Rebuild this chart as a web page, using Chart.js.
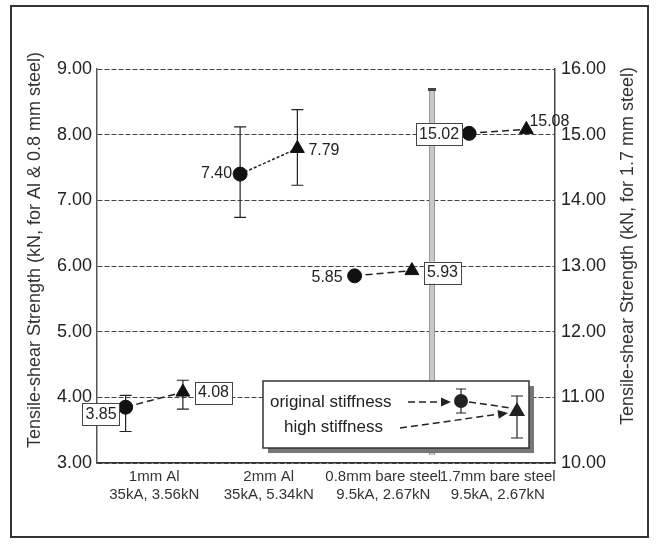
<!DOCTYPE html>
<html>
<head>
<meta charset="utf-8">
<script src="https://cdn.jsdelivr.net/npm/chart.js@4.4.1/dist/chart.umd.min.js"></script>
<style>
  html, body { margin: 0; padding: 0; background: #fff; }
  #wrap { width: 656px; height: 544px; }
</style>
</head>
<body>
<div id="wrap"><canvas id="strengthChart" width="656" height="544"></canvas></div>
<script>
// Tensile-shear strength, original vs high stiffness

const categories = [
    ['1mm Al', '35kA, 3.56kN'],
    ['2mm Al', '35kA, 5.34kN'],
    ['0.8mm bare steel', '9.5kA, 2.67kN'],
    ['1.7mm bare steel', '9.5kA, 2.67kN']
];
// last group is read on the right axis (1.7 mm steel)
const axisOfGroup = ['y', 'y', 'y', 'y2'];

const originalStiffness = [3.85, 7.40, 5.85, 15.02];
const highStiffness = [4.08, 7.79, 5.93, 15.08];

// error bar ends
const originalLow = [3.48, 6.74, 5.85, 15.02];
const originalHigh = [4.03, 8.12, 5.85, 15.02];
const highLow = [3.82, 7.23, 5.93, 15.08];
const highHigh = [4.26, 8.38, 5.93, 15.08];

const leftTicks = [3, 4, 5, 6, 7, 8, 9];
const rightTicks = [10, 11, 12, 13, 14, 15, 16];

const leftTitle = 'Tensile-shear Strength (kN, for Al & 0.8 mm steel)';
const rightTitle = 'Tensile-shear Strength (kN, for 1.7 mm steel)';

const OFFSET = 0.25;
const FONT = '"Liberation Sans", Arial, sans-serif';

function pointsFor(values, shift, axis) {
    return values
        .map((v, i) => ({ x: i + shift, y: v, axis: axisOfGroup[i] }))
        .filter(p => p.axis === axis);
}

function markerSet(label, values, shift, axis, style) {
    return {
        type: 'scatter',
        label: label,
        data: pointsFor(values, shift, axis),
        yAxisID: axis,
        pointStyle: style,
        pointRadius: style === 'circle' ? 7 : 8,
        backgroundColor: '#111',
        borderColor: '#111',
        order: 1
    };
}

const datasets = [
    markerSet('original stiffness', originalStiffness, -OFFSET, 'y', 'circle'),
    markerSet('original stiffness', originalStiffness, -OFFSET, 'y2', 'circle'),
    markerSet('high stiffness', highStiffness, OFFSET, 'y', 'triangle'),
    markerSet('high stiffness', highStiffness, OFFSET, 'y2', 'triangle')
];

// dashed connector inside each group
categories.forEach((c, i) => {
    datasets.push({
        type: 'line',
        label: 'link' + i,
        data: [
            { x: i - OFFSET, y: originalStiffness[i] },
            { x: i + OFFSET, y: highStiffness[i] }
        ],
        yAxisID: axisOfGroup[i],
        borderColor: '#222',
        borderWidth: 1.5,
        borderDash: i === 1 ? [3, 2] : [7, 4],
        pointRadius: 0,
        fill: false,
        order: 2
    });
});

function drawErrorBar(ctx, x, yTop, yBottom, cap) {
    ctx.beginPath();
    ctx.moveTo(x, yTop);
    ctx.lineTo(x, yBottom);
    ctx.moveTo(x - cap, yTop);
    ctx.lineTo(x + cap, yTop);
    ctx.moveTo(x - cap, yBottom);
    ctx.lineTo(x + cap, yBottom);
    ctx.stroke();
}

function drawVerticalTitle(ctx, text, x, y) {
    ctx.save();
    ctx.translate(x, y);
    ctx.rotate(-Math.PI / 2);
    ctx.font = '18px ' + FONT;
    ctx.fillStyle = '#333';
    ctx.textAlign = 'center';
    ctx.textBaseline = 'middle';
    ctx.fillText(text, 0, 0);
    ctx.restore();
}

const errorBarPlugin = {
    id: 'errorBars',
    beforeDatasetsDraw(chart) {
        const ctx = chart.ctx;
        const xs = chart.scales.x;

        // faint vertical scan streak
        ctx.save();
        ctx.fillStyle = '#c8c8c8';
        ctx.fillRect(429, 88, 6, 367);
        ctx.strokeStyle = '#9a9a9a';
        ctx.lineWidth = 1;
        ctx.beginPath();
        ctx.moveTo(429.5, 88); ctx.lineTo(429.5, 455);
        ctx.moveTo(434.5, 88); ctx.lineTo(434.5, 455);
        ctx.stroke();
        ctx.fillStyle = '#444';
        ctx.fillRect(428, 88, 8, 3);
        ctx.restore();

        ctx.save();
        ctx.strokeStyle = '#222';
        ctx.lineWidth = 1.2;
        categories.forEach((c, i) => {
            const ys = chart.scales[axisOfGroup[i]];
            if (originalHigh[i] !== originalLow[i]) {
                drawErrorBar(ctx, xs.getPixelForValue(i - OFFSET),
                    ys.getPixelForValue(originalHigh[i]), ys.getPixelForValue(originalLow[i]), 6);
            }
            if (highHigh[i] !== highLow[i]) {
                drawErrorBar(ctx, xs.getPixelForValue(i + OFFSET),
                    ys.getPixelForValue(highHigh[i]), ys.getPixelForValue(highLow[i]), 6);
            }
        });
        ctx.restore();
    }
};

// where each value label sits relative to its marker
const labelPlacement = {
    original: [
        { dx: -9, dy: 7, align: 'right', box: true },
        { dx: -8, dy: 0, align: 'right', box: false },
        { dx: -12, dy: 2, align: 'right', box: false },
        { dx: -10, dy: 1, align: 'right', box: true }
    ],
    high: [
        { dx: 15, dy: 1, align: 'left', box: true },
        { dx: 11, dy: 2, align: 'left', box: false },
        { dx: 15, dy: 2, align: 'left', box: true },
        { dx: 3, dy: -8, align: 'left', box: false }
    ]
};

function drawValueLabel(ctx, text, x, y, place) {
    ctx.font = '16px ' + FONT;
    ctx.textBaseline = 'middle';
    ctx.textAlign = place.align;
    const w = ctx.measureText(text).width;
    const tx = x + place.dx;
    const ty = y + place.dy;
    if (place.box) {
        const left = place.align === 'right' ? tx - w - 3 : tx - 3;
        ctx.fillStyle = '#fff';
        ctx.fillRect(left, ty - 11, w + 6, 22);
        ctx.strokeStyle = '#444';
        ctx.lineWidth = 1;
        ctx.strokeRect(Math.round(left) + 0.5, Math.round(ty - 11) + 0.5, Math.round(w + 6), 22);
    }
    ctx.fillStyle = '#222';
    ctx.fillText(text, tx, ty);
}

function arrowHead(ctx, x, y, angle) {
    ctx.save();
    ctx.translate(x, y);
    ctx.rotate(angle);
    ctx.beginPath();
    ctx.moveTo(0, 0);
    ctx.lineTo(-10, -4.5);
    ctx.lineTo(-10, 4.5);
    ctx.closePath();
    ctx.fill();
    ctx.restore();
}

const overlayPlugin = {
    id: 'overlay',
    afterDraw(chart) {
        const ctx = chart.ctx;
        const xs = chart.scales.x;
        ctx.save();

        drawVerticalTitle(ctx, leftTitle, 35, 250);
        drawVerticalTitle(ctx, rightTitle, 628, 246);

        categories.forEach((c, i) => {
            const ys = chart.scales[axisOfGroup[i]];
            drawValueLabel(ctx, originalStiffness[i].toFixed(2),
                xs.getPixelForValue(i - OFFSET), ys.getPixelForValue(originalStiffness[i]),
                labelPlacement.original[i]);
            drawValueLabel(ctx, highStiffness[i].toFixed(2),
                xs.getPixelForValue(i + OFFSET), ys.getPixelForValue(highStiffness[i]),
                labelPlacement.high[i]);
        });

        // legend box with shadow
        const bx = 263, by = 381, bw = 266, bh = 67;
        ctx.fillStyle = '#777';
        ctx.fillRect(bx + 5, by + 5, bw, bh);
        ctx.fillStyle = '#fff';
        ctx.fillRect(bx, by, bw, bh);
        ctx.strokeStyle = '#333';
        ctx.lineWidth = 1.5;
        ctx.strokeRect(bx, by, bw, bh);

        ctx.fillStyle = '#222';
        ctx.font = '17px ' + FONT;
        ctx.textAlign = 'left';
        ctx.textBaseline = 'middle';
        ctx.fillText('original stiffness', 270, 402);
        ctx.fillText('high stiffness', 284, 427);

        const cx = 461, cy = 401, tx = 517, ty = 411;
        ctx.strokeStyle = '#222';
        ctx.lineWidth = 1.5;
        ctx.setLineDash([7, 4]);
        ctx.beginPath();
        ctx.moveTo(408, 402); ctx.lineTo(444, 402);
        ctx.moveTo(400, 428); ctx.lineTo(500, 414);
        ctx.moveTo(cx + 8, cy + 1); ctx.lineTo(tx - 6, ty - 3);
        ctx.stroke();
        ctx.setLineDash([]);
        arrowHead(ctx, 451, 402, 0);
        arrowHead(ctx, 508, 413, Math.atan2(-14, 100));

        ctx.lineWidth = 1.2;
        drawErrorBar(ctx, cx, 389, 413, 5);
        drawErrorBar(ctx, tx, 396, 438, 6);
        ctx.beginPath();
        ctx.arc(cx, cy, 7, 0, Math.PI * 2);
        ctx.fill();
        ctx.beginPath();
        ctx.moveTo(tx, ty - 9);
        ctx.lineTo(tx + 8, ty + 5);
        ctx.lineTo(tx - 8, ty + 5);
        ctx.closePath();
        ctx.fill();

        // outer frame
        ctx.strokeStyle = '#333';
        ctx.lineWidth = 2;
        ctx.strokeRect(11, 6, 637, 531);
        ctx.restore();
    }
};

const ctx = document.getElementById('strengthChart').getContext('2d');
new Chart(ctx, {
    data: { datasets },
    options: {
        responsive: false,
        animation: false,
        layout: { padding: { top: 69, right: 0, bottom: 0, left: 0 } },
        plugins: {
            legend: { display: false },
            tooltip: { enabled: false }
        },
        scales: {
            x: {
                type: 'linear',
                min: -0.5,
                max: 3.5,
                afterBuildTicks: (scale) => {
                    scale.ticks = categories.map((c, i) => ({ value: i }));
                },
                afterFit: (scale) => { scale.height = 81; },
                grid: { display: false, drawTicks: false },
                border: { display: true, color: '#333', width: 1.5 },
                ticks: {
                    padding: 5,
                    color: '#333',
                    font: { family: FONT, size: 15 },
                    maxRotation: 0,
                    autoSkip: false,
                    callback: (v) => categories[v]
                }
            },
            y: {
                position: 'left',
                min: leftTicks[0],
                max: leftTicks[leftTicks.length - 1],
                afterBuildTicks: (scale) => {
                    scale.ticks = leftTicks.map(v => ({ value: v }));
                },
                afterFit: (scale) => { scale.width = 97; },
                grid: { color: '#444', lineWidth: 1, drawTicks: false },
                border: { display: true, color: '#555', width: 1.5, dash: [5, 2] },
                ticks: {
                    padding: 5,
                    color: '#222',
                    font: { family: FONT, size: 18 },
                    callback: (v) => v.toFixed(2)
                }
            },
            y2: {
                position: 'right',
                min: rightTicks[0],
                max: rightTicks[rightTicks.length - 1],
                afterBuildTicks: (scale) => {
                    scale.ticks = rightTicks.map(v => ({ value: v }));
                },
                afterFit: (scale) => { scale.width = 101; },
                grid: { display: false, drawTicks: false },
                border: { display: true, color: '#444', width: 1.5 },
                ticks: {
                    padding: 6,
                    color: '#222',
                    font: { family: FONT, size: 18 },
                    callback: (v) => v.toFixed(2)
                }
            }
        }
    },
    plugins: [errorBarPlugin, overlayPlugin]
});
</script>
</body>
</html>
